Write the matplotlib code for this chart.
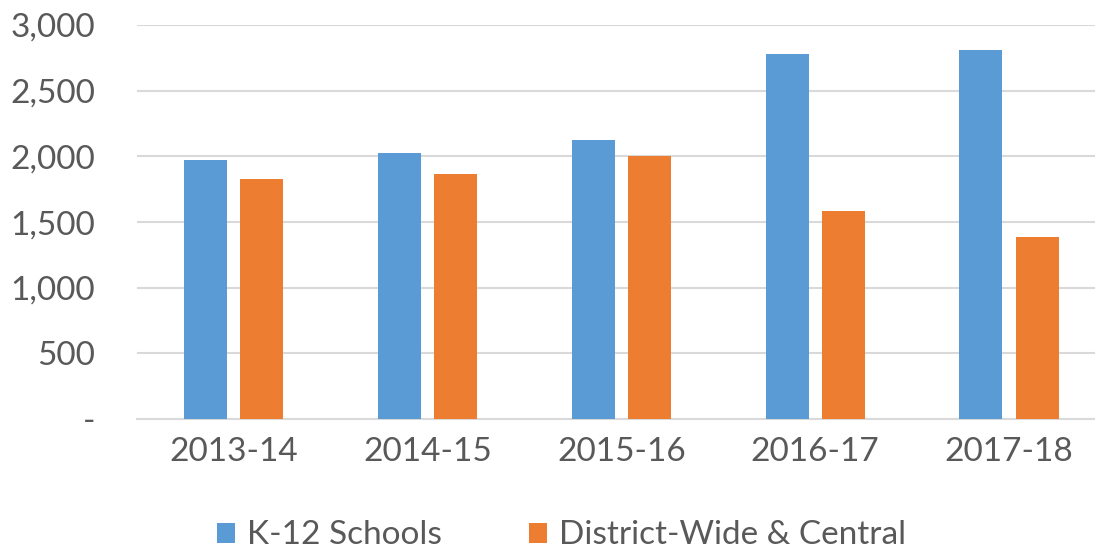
import numpy as np
import matplotlib
matplotlib.use("Agg")
import matplotlib.pyplot as plt
from matplotlib.ticker import FuncFormatter

# data
years = ["2013-14", "2014-15", "2015-16", "2016-17", "2017-18"]
k12_schools = [1970, 2025, 2122, 2780, 2808]
district_central = [1830, 1865, 2000, 1588, 1390]
series_names = ["K-12 Schools", "District-Wide & Central"]

plt.rcParams["font.family"] = ["Lato", "DejaVu Sans"]
text_color = "#595959"
grid_color = "#d9d9d9"

fig = plt.figure(figsize=(10.95, 5.5), dpi=100)
# plot area runs a little past the right edge, like the source
ax = fig.add_axes([0.125, 0.238, 0.885, 0.7165])

x = np.arange(len(years))
width = 0.222
offset = 0.145
ax.bar(x - offset, k12_schools, width, color="#5B9BD5", label=series_names[0], zorder=3)
ax.bar(x + offset, district_central, width, color="#ED7D31", label=series_names[1], zorder=3)

ax.set_xlim(-0.5, len(years) - 0.5)
ax.set_ylim(0, 3000)
ax.set_yticks(range(0, 3001, 500))
ax.yaxis.set_major_formatter(FuncFormatter(lambda v, p: "-" if v == 0 else f"{int(v):,}"))
ax.set_xticks(x)
ax.set_xticklabels(years)

ax.grid(axis="y", color=grid_color, linewidth=1.5, zorder=0)
for side in ["top", "right", "left"]:
    ax.spines[side].set_visible(False)
ax.spines["bottom"].set_color(grid_color)
ax.spines["bottom"].set_linewidth(1.5)
ax.tick_params(axis="both", length=0, labelsize=24, labelcolor=text_color)
ax.tick_params(axis="y", pad=30)
ax.tick_params(axis="x", pad=13)

ax.legend(loc="center", bbox_to_anchor=(0.438, -0.295), ncol=2, frameon=False,
          fontsize=24, labelcolor=text_color, handlelength=0.55, handleheight=0.55,
          handletextpad=0.35, columnspacing=2.6, borderpad=0.1)

fig.savefig("out.png", dpi=100)
